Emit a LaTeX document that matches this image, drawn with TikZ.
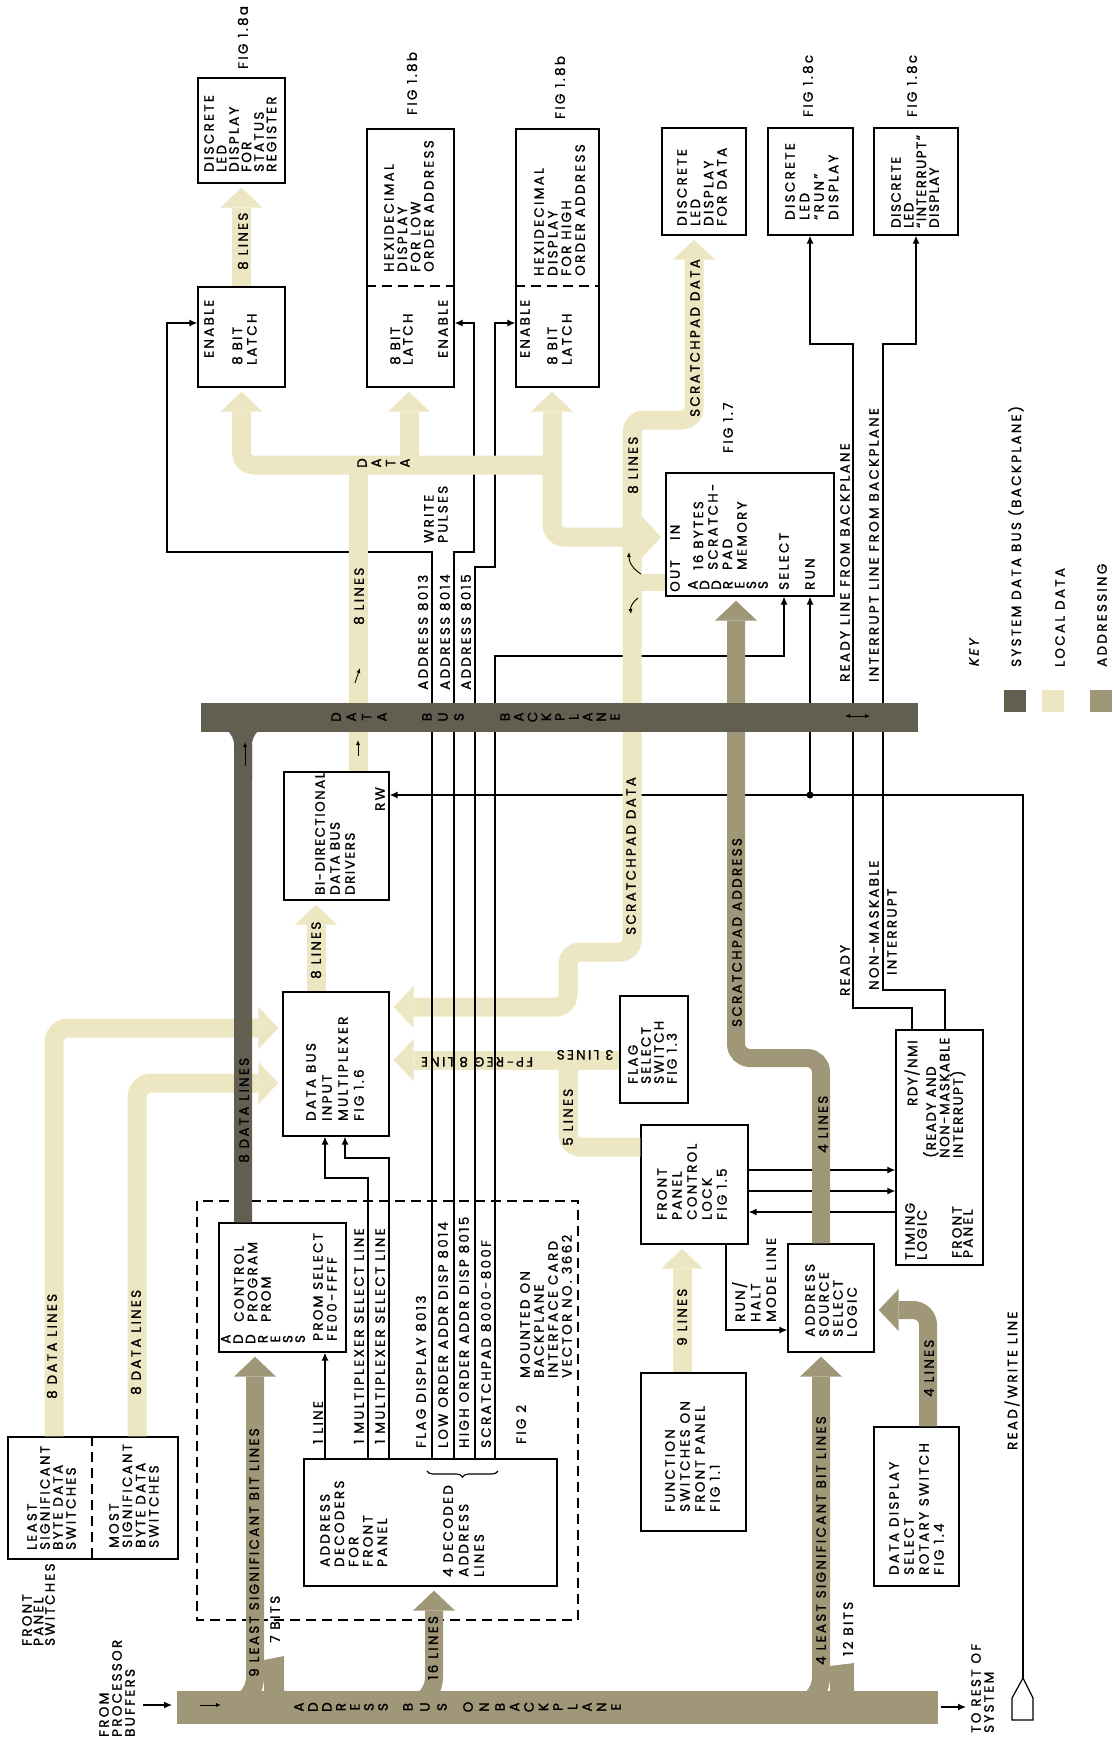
\documentclass[tikz,border=0pt]{standalone}
\usepackage{fontspec}
\setmainfont{Poppins}[LetterSpace=17,FakeBold=1.1]
\newfontfamily\slfont{Poppins}[LetterSpace=17,FakeBold=1.1,FakeSlant=0.2]
\usetikzlibrary{arrows.meta,decorations.pathreplacing}
\definecolor{sysbus}{RGB}{98,94,80}
\definecolor{locdat}{RGB}{237,230,194}
\definecolor{addrc}{RGB}{160,151,120}
\begin{document}
\begin{tikzpicture}[x=1pt,y=-1pt,
  blk/.style={draw,line width=1.3pt,inner sep=0pt},
  vt/.style={rotate=90,inner sep=0pt,align=left,font=\fontsize{13.5}{#1}\selectfont},
  vt/.default=13,
  tight/.style={execute at begin node=\addfontfeatures{LetterSpace=11}},
  ut/.style={rotate=180,inner sep=0pt,font=\fontsize{13.5}{13}\selectfont},
  sig/.style={line width=1.2pt},
  arr/.style={-{Latex[length=8pt,width=7pt]}},
  sarr/.style={line width=0.9pt,-{Latex[length=5pt,width=4pt]}},
  sys/.style={draw=sysbus,line width=29pt},
  sysb/.style={draw=sysbus,line width=18pt,rounded corners=28pt},
  loc/.style={draw=locdat,line width=19pt},
  adr/.style={draw=addrc,line width=18pt},
  bhead/.style={-{Triangle[width=42pt,length=20pt,line width=0pt]},shorten >=4pt},
  dashline/.style={line width=1.2pt,dash pattern=on 10pt off 6pt}
]
\useasboundingbox (0,0) rectangle (1112,1741);

% boxes
\node[blk,minimum width=87pt,minimum height=105pt] (stat) at (241.5,130.5) {};
\node[blk,minimum width=87pt,minimum height=100pt] (latA) at (241.5,337) {};
\node[blk,minimum width=87pt,minimum height=258pt] (hexlo) at (410.5,258) {};
\node[blk,minimum width=83pt,minimum height=258pt] (hexhi) at (557.5,258) {};
\node[blk,minimum width=84pt,minimum height=107pt] (ledD) at (704,181.5) {};
\node[blk,minimum width=85pt,minimum height=107pt] (ledR) at (810.5,181.5) {};
\node[blk,minimum width=84pt,minimum height=107pt] (ledI) at (916,181.5) {};
\node[blk,minimum width=168pt,minimum height=123pt] (mem) at (750,534.5) {};
\node[blk,minimum width=105pt,minimum height=128pt] (drv) at (336.5,836) {};
\node[blk,minimum width=106pt,minimum height=144pt] (mux) at (336,1064) {};
\node[blk,minimum width=127pt,minimum height=129pt] (prom) at (282.5,1287.5) {};
\node[blk,minimum width=253pt,minimum height=127pt] (dec) at (430.5,1522.5) {};
\node[blk,minimum width=170pt,minimum height=122pt] (sw) at (93,1498) {};
\node[blk,minimum width=68pt,minimum height=107pt] (flag) at (654,1049.5) {};
\node[blk,minimum width=107pt,minimum height=119pt] (lock) at (694.5,1184.5) {};
\node[blk,minimum width=105pt,minimum height=158pt] (fsw) at (693.5,1452) {};
\node[blk,minimum width=86pt,minimum height=108pt] (asl) at (831,1298) {};
\node[blk,minimum width=85pt,minimum height=159pt] (rot) at (916.5,1506.5) {};
\node[blk,minimum width=87pt,minimum height=235pt] (tim) at (939.5,1147.5) {};

\draw[dashline] (hexlo.west |- 0,286) -- (hexlo.east |- 0,286);
\draw[dashline] (hexhi.west |- 0,286) -- (hexhi.east |- 0,286);
\draw[dashline] (sw.north -| 92,0) -- (sw.south -| 92,0);
\draw[dashline] (197,1201) rectangle (578,1620);

% signal lines under the buses
\draw[sig,arr] (1023,1678) -- (1023,795) -- (drv.east |- 0,795);
\draw[sig] (1023,1678) -- (1033,1698) -- (1033,1720) -- (1012,1720) -- (1012,1698) -- cycle;
\fill (810,795) circle (3.5pt);
\draw[sig,arr] (810,795) -- (mem.south -| 810,0);
\draw[sig,arr] (495,700) -- (495,656) -- (784,656) -- (mem.south -| 784,0);
\draw[sig,arr] (lock.east |- 0,1170) -- (tim.west |- 0,1170);
\draw[sig,arr] (lock.east |- 0,1191) -- (tim.west |- 0,1191);
\draw[sig,arr] (tim.west |- 0,1212) -- (lock.east |- 0,1212);
\draw[sig,arr] (lock.south -| 726,0) -- (726,1330) -- (asl.west |- 0,1330);
\draw[sig,arr] (tim.north -| 912,0) -- (912,1008) -- (853,1008) -- (853,344) -- (810,344) -- (ledR.south -| 810,0);
\draw[sig,arr] (tim.north -| 945,0) -- (945,990) -- (883,990) -- (883,344) -- (916,344) -- (ledI.south);
\draw[sig,arr] (dec.north -| 325,0) -- (prom.south -| 325,0);
\draw[sig,arr] (dec.north -| 368,0) -- (368,1178) -- (325,1178) -- (mux.south -| 325,0);
\draw[sig,arr] (dec.north -| 389,0) -- (389,1158) -- (345,1158) -- (mux.south -| 345,0);

% local data
\draw[loc,bhead] (latA.north) -- (stat.south);
\draw[loc,rounded corners=14pt,bhead] (sw.north -| 54,0) -- (54,1028) -- (mux.west |- 0,1028);
\draw[loc,rounded corners=14pt,bhead] (sw.north -| 137,0) -- (137,1083) -- (mux.west |- 0,1083);
\draw[loc,bhead] (mux.north -| 316,0) -- (drv.south -| 316,0);
\draw[loc,bhead] (fsw.north -| 682,0) -- (lock.south -| 682,0);
\draw[loc,bhead] (flag.west |- 0,1060) -- (mux.east |- 0,1060);
\draw[loc,rounded corners=12pt] (lock.west |- 0,1147) -- (568,1147) -- (568,1060) -- (590,1060);
\draw[loc,rounded corners=12pt,bhead] (632,582) -- (632,420) -- (694,420) -- (ledD.south -| 694,0);
\draw[loc,rounded corners=12pt,bhead] (632,582) -- (632,952) -- (568,952) -- (568,1007) -- (mux.east |- 0,1007);
\draw[locdat,line width=17pt] (mem.west |- 0,582) -- (632,582);

% addressing
\draw[adr,line width=33pt] (177,1707) -- (938,1707);
\draw[adr,rounded corners=30pt,bhead] (215,1707) -- (255,1707) -- (prom.south -| 255,0);
\draw[adr,rounded corners=30pt,bhead] (394,1707) -- (434,1707) -- (dec.south -| 434,0);
\draw[adr,rounded corners=30pt,bhead] (781,1707) -- (821,1707) -- (asl.south -| 821,0);
\fill[addrc] (264,1692) -- (264,1660) -- (284,1656) -- (284,1692) -- cycle;
\fill[addrc] (830,1692) -- (830,1666) -- (854,1663) -- (854,1692) -- cycle;
\draw[adr,rounded corners=15pt,bhead] (rot.north -| 928,0) -- (928,1310) -- (asl.east |- 0,1310);
\draw[adr,rounded corners=14pt,bhead] (asl.north -| 821,0) -- (821,1058) -- (736,1058) -- (mem.south -| 736,0);

% address decoder outputs
\draw[sig,arr] (dec.north -| 432,0) -- (432,552) -- (167,552) -- (167,323) -- (latA.west |- 0,323);
\draw[sig,arr] (dec.north -| 454,0) -- (454,552) -- (474,552) -- (474,323) -- (hexlo.east |- 0,323);
\draw[sig,arr] (dec.north -| 475,0) -- (475,567) -- (495,567) -- (495,323) -- (hexhi.west |- 0,323);
\draw[sig] (dec.north -| 495,0) -- (495,700);

% local data to the latches
\draw[loc,rounded corners=12pt,bhead] (552,465) -- (241.5,465) -- (latA.south);
\draw[loc,bhead] (409,465) -- (hexlo.south -| 409,0);
\draw[loc,bhead] (552,470) -- (hexhi.south -| 552,0);
\draw[loc,rounded corners=12pt,bhead] (552,460) -- (552,537) -- (mem.west |- 0,537);
\draw[loc] (358,465) -- (drv.north -| 358,0);

% system data bus
\draw[sys] (201,717) -- (918,717);
\draw[sysb] (205,717) -- (243,717) -- (prom.north -| 243,0);
\draw[sysb] (281,717) -- (243,717) -- (243,780);

% small direction marks
\draw[sarr] (245,766) -- (245,742);
\draw[sarr] (358,756) -- (358,740);
\draw[sarr] (355,683) -- (360,668);
\draw[line width=0.9pt,{Latex[length=5pt,width=4pt]}-{Latex[length=5pt,width=4pt]}] (845,716) -- (870,716);
\draw[sarr] (641,574) to[bend left=30] (629,552);
\draw[sarr] (638,598) to[bend right=30] (631,614);
\draw[sig,arr] (143,1705) -- (172,1705);
\draw[sig,arr] (941,1707) -- (966,1707);
\draw[sarr] (200,1705) -- (221,1705);
\draw[line width=1.1pt,decorate,decoration={brace,amplitude=6pt}] (498,1471) -- (427,1471);

% key
\fill[sysbus] (1004,690) rectangle (1026,712);
\fill[locdat] (1042,690) rectangle (1064,712);
\fill[addrc] (1090,690) rectangle (1112,712);

% texts
\node[vt,anchor=west] (fa) at (243,69) {FIG 1.8a};
\node[vt,anchor=west] (fb1) at (412,115) {FIG 1.8b};
\node[vt,anchor=west] (fb2) at (560,119) {FIG 1.8b};
\node[vt,anchor=west] (fc1) at (808,117) {FIG 1.8c};
\node[vt,anchor=west] (fc2) at (912,117) {FIG 1.8c};
\node[vt,anchor=west] (f7) at (728,453) {FIG 1.7};
\node[vt,anchor=west] (f2) at (521,1444) {FIG 2};

\node[vt=12.5,anchor=north west] (tstat) at (204,172) {DISCRETE\\LED\\DISPLAY\\FOR\\STATUS\\REGISTER};
\node[vt,anchor=west] (tenA) at (209,358) {ENABLE};
\node[vt=14.5,anchor=north west] (tlatA) at (232,365) {8 BIT\\LATCH};
\node[vt=13.3,anchor=north west] (thexlo) at (384,272) {HEXIDECIMAL\\DISPLAY\\FOR LOW\\ORDER ADDRESS};
\node[vt=12.5,anchor=north west] (tlatB) at (390,365) {8 BIT\\LATCH};
\node[vt,anchor=west] (tenB) at (443,358) {ENABLE};
\node[vt=13.7,anchor=north west] (thexhi) at (534,276) {HEXIDECIMAL\\DISPLAY\\FOR HIGH\\ORDER ADDRESS};
\node[vt,anchor=west] (tenC) at (525,358) {ENABLE};
\node[vt=14.5,anchor=north west] (tlatC) at (547,365) {8 BIT\\LATCH};
\node[vt=13.3,anchor=north west] (tledD) at (677,226) {DISCRETE\\LED\\DISPLAY\\FOR DATA};
\node[vt=14.5,anchor=north west] (tledR) at (785,220) {DISCRETE\\LED\\“RUN”\\DISPLAY};
\node[vt=12.7,tight,anchor=north west] (tledI) at (891,228) {DISCRETE\\LED\\“INTERRUPT”\\DISPLAY};

\node[vt,anchor=west] (t8a) at (243,270) {8 LINES};
\node[vt=14.3,align=center] (tdat) at (383.5,463) {D\\A\\T\\A};
\node[vt=14,anchor=north west] (twp) at (424,543) {WRITE\\PULSES};
\node[vt,anchor=west] (t8m) at (359,625) {8 LINES};
\node[vt,anchor=west] (ta13) at (423,690) {ADDRESS 8013};
\node[vt,anchor=west] (ta14) at (445,690) {ADDRESS 8014};
\node[vt,anchor=west] (ta15) at (466,690) {ADDRESS 8015};
\node[vt=15.3,align=center] (bpD) at (359,717) {D\\A\\T\\A};
\node[vt=16,align=center] (bpB) at (443,717) {B\\U\\S};
\node[vt=13.75,align=center] (bpK) at (560,717) {B\\A\\C\\K\\P\\L\\A\\N\\E};

\node[vt=14.5,anchor=north west] (tmem) at (693,570) {16 BYTES\\SCRATCH-\\PAD\\MEMORY};
\node[vt,anchor=west] (tin) at (675,540) {IN};
\node[vt,anchor=west] (tout) at (675,592) {OUT};
\node[vt=11.7,align=center] (tmad) at (728,585) {A\\D\\D\\R\\E\\S\\S};
\node[vt,anchor=west] (tsel) at (784,590) {SELECT};
\node[vt,anchor=west] (trun) at (810,590) {RUN};
\node[vt,anchor=west] (tsdu) at (695,417) {SCRATCHPAD DATA};
\node[vt,anchor=west] (t8s) at (633,494) {8 LINES};
\node[vt,anchor=west] (trl) at (845,682) {READY LINE FROM BACKPLANE};
\node[vt,anchor=west] (til) at (874,682) {INTERRUPT LINE FROM BACKPLANE};

\node[vt=15,tight,anchor=north west] (tdrv) at (315,895) {BI-DIRECTIONAL\\DATA BUS\\DRIVERS};
\node[vt,anchor=west] (trw) at (380,811) {RW};
\node[vt,anchor=west] (t8d) at (316,979) {8 LINES};
\node[vt=16,anchor=north west] (tmux) at (306,1121) {DATA BUS\\INPUT\\MULTIPLEXER\\FIG 1.6};
\node[vt,anchor=west] (tdl) at (244,1163) {8 DATA LINES};
\node[vt,anchor=west] (tdl1) at (52,1399) {8 DATA LINES};
\node[vt,anchor=west] (tdl2) at (136,1395) {8 DATA LINES};
\node[vt,anchor=west] (tsdl) at (631,935) {SCRATCHPAD DATA};
\node[vt,anchor=west] (tsad) at (737,1027) {SCRATCHPAD ADDRESS};
\node[vt,anchor=west] (trdy) at (845,996) {READY};
\node[vt,anchor=west] (tnm) at (874,990) {NON-MASKABLE};
\node[vt,anchor=west] (tint) at (892,975) {INTERRUPT};
\node[ut] (t3l) at (585,1055) {3 LINES};
\node[ut] (tfp) at (477,1062) {FP-REG 8 LINE};
\node[vt,anchor=west] (t5l) at (568,1146) {5 LINES};
\node[vt=13,anchor=north west] (tflag) at (628,1084) {FLAG\\SELECT\\SWITCH\\FIG 1.3};
\node[vt=15,anchor=north west] (tlock) at (657,1220) {FRONT\\PANEL\\CONTROL\\LOCK\\FIG 1.5};
\node[vt,anchor=west] (t4s) at (823,1153) {4 LINES};
\node[vt,tight,anchor=west] (trdn) at (912,1106) {RDY/NMI};
\node[vt=13.5,tight,anchor=north west] (trdx) at (923,1158) {(READY AND\\NON-MASKABLE\\INTERRUPT)};
\node[vt=12,anchor=north west] (ttim) at (905,1260) {TIMING\\LOGIC};
\node[vt=11,anchor=north west] (tfpn) at (952,1258) {FRONT\\PANEL};

\node[vt=13.5,anchor=north west] (tprom) at (234,1322) {CONTROL\\PROGRAM\\PROM};
\node[vt=12.4,align=center] (tpad) at (263,1339) {A\\D\\D\\R\\E\\S\\S};
\node[vt=14,anchor=north west] (tpsel) at (313,1341) {PROM SELECT\\FE00-FFFF};
\node[vt,anchor=west] (t1l) at (318,1444) {1 LINE};
\node[vt,anchor=west] (tms1) at (359,1444) {1 MULTIPLEXER SELECT LINE};
\node[vt,anchor=west] (tms2) at (380,1444) {1 MULTIPLEXER SELECT LINE};
\node[vt,anchor=west] (tfd) at (421,1448) {FLAG DISPLAY 8013};
\node[vt,anchor=west] (tlo) at (443,1448) {LOW ORDER ADDR DISP 8014};
\node[vt,anchor=west] (thi) at (464,1448) {HIGH ORDER ADDR DISP 8015};
\node[vt,anchor=west] (tsp) at (486,1448) {SCRATCHPAD 8000-800F};
\node[vt=14,anchor=north west] (tmnt) at (520,1378) {MOUNTED ON\\BACKPLANE\\INTERFACE CARD\\VECTOR NO. 3662};
\node[vt=14.3,anchor=north west] (tdec) at (320,1567) {ADDRESS\\DECODERS\\FOR\\FRONT\\PANEL};
\node[vt=15.5,anchor=north west] (tdal) at (443,1577) {4 DECODED\\ADDRESS\\LINES};

\node[vt=13,anchor=north west] (tswl) at (27,1550) {LEAST\\SIGNIFICANT\\BYTE DATA\\SWITCHES};
\node[vt=13.3,anchor=north west] (tswm) at (109,1548) {MOST\\SIGNIFICANT\\BYTE DATA\\SWITCHES};
\node[vt=11.5,anchor=north west] (tfps) at (22,1646) {FRONT\\PANEL\\SWITCHES};
\node[vt=13,anchor=north west] (tfrom) at (99,1737) {FROM\\PROCESSOR\\BUFFERS};
\node[vt,anchor=west] (t9l) at (254,1677) {9 LEAST SIGNIFICANT BIT LINES};
\node[vt,anchor=west] (t7b) at (275,1643) {7 BITS};
\node[vt,anchor=west] (t16) at (433,1680) {16 LINES};
\node[vt=14,align=center] (abA) at (341,1707) {A\\D\\D\\R\\E\\S\\S};
\node[vt=17,align=center] (abB) at (425,1707) {B\\U\\S};
\node[vt=16,align=center] (abO) at (476,1707) {O\\N};
\node[vt=14.5,align=center] (abK) at (558,1707) {B\\A\\C\\K\\P\\L\\A\\N\\E};

\node[vt=15,anchor=north west] (tfsw) at (665,1512) {FUNCTION\\SWITCHES ON\\FRONT PANEL\\FIG 1.1};
\node[vt,anchor=west] (t9) at (682,1346) {9 LINES};
\node[vt=15.5,anchor=north west] (trh) at (732,1322) {RUN/\\HALT\\MODE LINE};
\node[vt=14,anchor=north west] (tasl) at (805,1337) {ADDRESS\\SOURCE\\SELECT\\LOGIC};
\node[vt,anchor=west] (t4lsb) at (821,1665) {4 LEAST SIGNIFICANT BIT LINES};
\node[vt,anchor=west] (t12) at (848,1656) {12 BITS};
\node[vt=15,anchor=north west] (trot) at (889,1575) {DATA DISPLAY\\SELECT\\ROTARY SWITCH\\FIG 1.4};
\node[vt,anchor=west] (t4r) at (929,1397) {4 LINES};
\node[vt,anchor=west] (trwl) at (1012,1450) {READ/WRITE LINE};
\node[vt=13,anchor=north west] (trest) at (971,1733) {TO REST OF\\SYSTEM};

\node[vt,anchor=west,font=\slfont\fontsize{13.5}{13}\selectfont] (tkey) at (974,667) {KEY};
\node[vt,anchor=west] (tk1) at (1016,667) {SYSTEM DATA BUS (BACKPLANE)};
\node[vt,anchor=west] (tk2) at (1060,667) {LOCAL DATA};
\node[vt,anchor=west] (tk3) at (1102,667) {ADDRESSING};
\end{tikzpicture}
\end{document}
